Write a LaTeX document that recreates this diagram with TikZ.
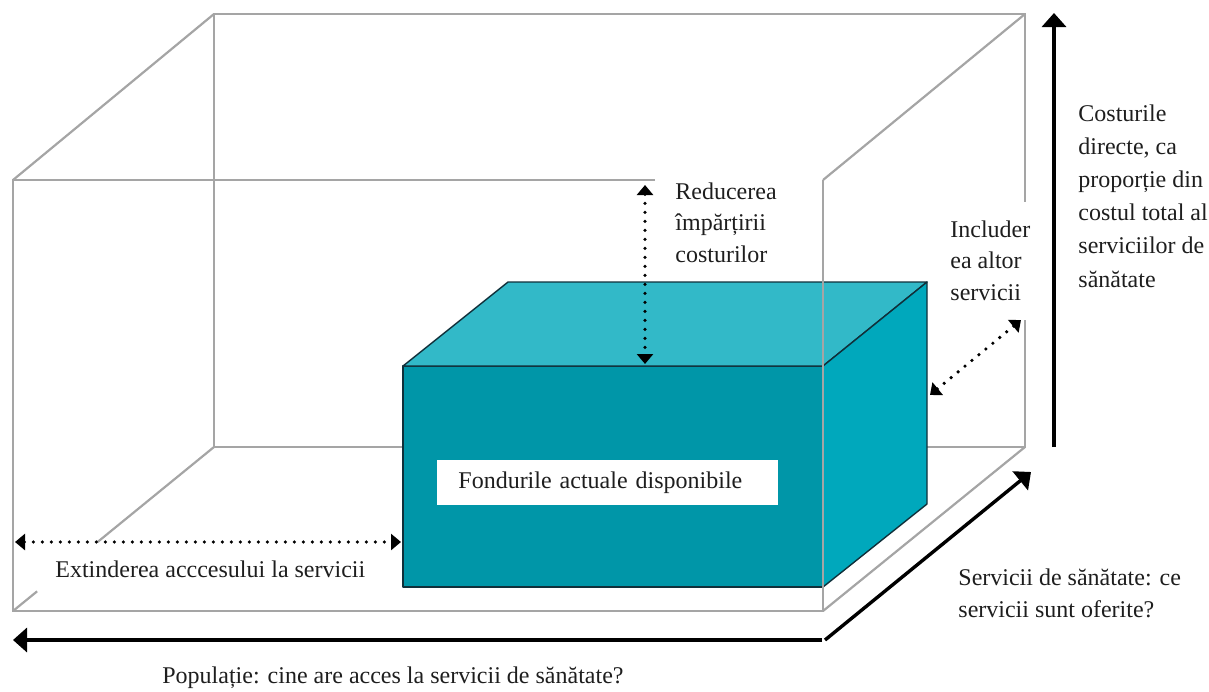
\documentclass[tikz,border=0pt]{standalone}
\usepackage{fontspec}
\setmainfont{Liberation Serif}
\usetikzlibrary{arrows.meta,calc}
\definecolor{frontc}{RGB}{0,150,168}
\definecolor{topc}{RGB}{50,185,200}
\definecolor{sidec}{RGB}{0,168,188}
\definecolor{edgec}{RGB}{16,48,58}
\definecolor{greyline}{RGB}{165,165,165}
\definecolor{txt}{RGB}{30,30,30}
\begin{document}
\begin{tikzpicture}[x=0.5pt,y=-0.5pt,
  frame/.style={draw=greyline, line width=1.1pt},
  boxedge/.style={draw=edgec, line width=0.7pt, line join=round},
  bigarrow/.style={draw=black, line width=1.7pt, -{Triangle[length=7pt,width=12pt]}},
  dotarrow/.style={draw=black, line width=1.8pt, line cap=round, dash pattern=on 0pt off 4.5pt,
     {Triangle[length=5pt,width=8pt]}-{Triangle[length=5pt,width=8pt]}},
  lbl/.style={text=txt, font=\fontsize{12}{15.6}\selectfont, align=left, anchor=base west, inner sep=0pt}]
\useasboundingbox (0,0) rectangle (1209,691);
% outer frame corners
\coordinate (F1) at (13,180);
\coordinate (F2) at (823,180);
\coordinate (F3) at (823,611);
\coordinate (F4) at (13,611);
\coordinate (B1) at (214,14);
\coordinate (B2) at (1025,14);
\coordinate (B3) at (1025,447);
\coordinate (B4) at (214,447);
\coordinate (G1) at (655,180);
\coordinate (G2) at (1025,202);
\coordinate (G3) at (1025,320);
\coordinate (GA) at ($(F4)!0.12!(B4)$);
\coordinate (GB) at ($(F4)!0.42!(B4)$);
% inner box corners
\coordinate (P1) at (403,366);
\coordinate (P2) at (823,366);
\coordinate (P3) at (823,587);
\coordinate (P4) at (403,587);
\coordinate (Q1) at (508,282);
\coordinate (Q2) at (927,282);
\coordinate (Q3) at (927,504);
% back lines of frame
\draw[frame] (B4) -- (B1) -- (B2) -- (G2);
\draw[frame] (G3) -- (B3) -- (B4);
\draw[frame] (F1) -- (B1);
\draw[frame] (F2) -- (B2);
\draw[frame] (F3) -- (B3);
\draw[frame] (F4) -- (GA);
\draw[frame] (GB) -- (B4);
% teal box
\filldraw[fill=frontc, boxedge] (P1) -- (P2) -- (P3) -- (P4) -- cycle;
\filldraw[fill=topc, boxedge] (P1) -- (Q1) -- (Q2) -- (P2) -- cycle;
\filldraw[fill=sidec, boxedge] (P2) -- (Q2) -- (Q3) -- (P3) -- cycle;
% front lines of frame
\draw[frame] (G1) -- (F1) -- (F4) -- (F3) -- (F2);
% label in box
\node[fill=white, anchor=north west, inner xsep=10.5pt, inner ysep=0pt, text width=149.5pt,
      minimum height=22.5pt, text=txt, font=\fontsize{12}{14}\selectfont, align=left] (fond) at (437,460)
      {Fondurile actuale disponibile};
% arrows
\coordinate (up0) at (1054,447);
\coordinate (up1) at (1054,13);
\coordinate (lf0) at (822,640);
\coordinate (lf1) at (13,640);
\coordinate (dg0) at (825,640);
\coordinate (dg1) at (1031,472);
\draw[bigarrow] (up0) -- (up1);
\draw[bigarrow] (lf0) -- (lf1);
\draw[bigarrow] (dg0) -- (dg1);
\coordinate (dv0) at (645,185);
\coordinate (dv1) at (645,364);
\coordinate (dh0) at (15,542);
\coordinate (dh1) at (401,542);
\coordinate (dd0) at (930,395);
\coordinate (dd1) at (1021,320);
\draw[dotarrow] (dv0) -- (dv1);
\draw[dotarrow] (dh0) -- (dh1);
\draw[dotarrow] (dd0) -- (dd1);
% labels (anchored at the baseline of the last line)
\node[lbl] (red) at (675,262) {Reducerea\\împărțirii\\costurilor};
\node[lbl] (incl) at (950,300) {Includer\\ea altor\\servicii};
\node[lbl, font=\fontsize{12}{16.6}\selectfont] (cost) at (1078,287) {Costurile\\directe, ca\\proporție din\\costul total al\\serviciilor de\\sănătate};
\node[lbl] (serv) at (958,617) {Servicii de sănătate: ce\\servicii sunt oferite?};
\node[lbl] (pop) at (162,683) {Populație: cine are acces la servicii de sănătate?};
\node[lbl] (ext) at (55,577) {Extinderea acccesului la servicii};
\end{tikzpicture}
\end{document}
